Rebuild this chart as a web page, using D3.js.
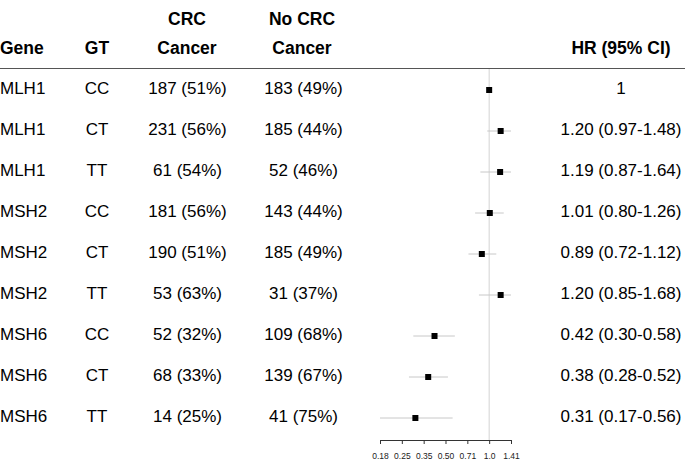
<!DOCTYPE html>
<html>
<head>
<meta charset="utf-8">
<script src="https://cdn.jsdelivr.net/npm/d3@7"></script>
<style>
  body { margin: 0; background: #fff; }
  svg { display: block; }
</style>
</head>
<body>
<svg id="chart"></svg>
<script>
const genes = ["MLH1","MLH1","MLH1","MSH2","MSH2","MSH2","MSH6","MSH6","MSH6"];
const gts = ["CC","CT","TT","CC","CT","TT","CC","CT","TT"];
const crc = ["187 (51%)","231 (56%)","61 (54%)","181 (56%)","190 (51%)","53 (63%)","52 (32%)","68 (33%)","14 (25%)"];
const nocrc = ["183 (49%)","185 (44%)","52 (46%)","143 (44%)","185 (49%)","31 (37%)","109 (68%)","139 (67%)","41 (75%)"];
const hr = [1, 1.20, 1.19, 1.01, 0.89, 1.20, 0.42, 0.38, 0.31];
const lo = [null, 0.97, 0.87, 0.80, 0.72, 0.85, 0.30, 0.28, 0.17];
const hi = [null, 1.48, 1.64, 1.26, 1.12, 1.68, 0.58, 0.52, 0.56];
const hrText = ["1","1.20 (0.97-1.48)","1.19 (0.87-1.64)","1.01 (0.80-1.26)","0.89 (0.72-1.12)","1.20 (0.85-1.68)","0.42 (0.30-0.58)","0.38 (0.28-0.52)","0.31 (0.17-0.56)"];
const tickVals = [0.1768, 0.25, 0.3536, 0.5, 0.7071, 1, 1.4142];
const tickLabels = ["0.18","0.25","0.35","0.50","0.71","1.0","1.41"];

const W = 685, H = 461;
const font = "Liberation Sans, Arial, sans-serif";

const svg = d3.select("#chart").attr("width", W).attr("height", H);

const y = d3.scalePoint().domain(d3.range(hr.length)).range([90, 418]);
const x = d3.scaleLog().base(2).domain([0.1768, 1.4142]).range([380, 511]);

// header
const head = svg.append("g")
  .attr("font-family", font).attr("font-size", 17.5).attr("font-weight", "bold")
  .attr("dominant-baseline", "middle");
head.append("text").attr("x", 0).attr("y", 49).text("Gene");
head.append("text").attr("x", 97).attr("y", 49).attr("text-anchor", "middle").text("GT");
head.append("text").attr("x", 187).attr("y", 20).attr("text-anchor", "middle").text("CRC");
head.append("text").attr("x", 187).attr("y", 49).attr("text-anchor", "middle").text("Cancer");
head.append("text").attr("x", 302).attr("y", 20).attr("text-anchor", "middle").text("No CRC");
head.append("text").attr("x", 302).attr("y", 49).attr("text-anchor", "middle").text("Cancer");
head.append("text").attr("x", 621).attr("y", 49).attr("text-anchor", "middle").text("HR (95% CI)");

svg.append("line")
  .attr("x1", 0).attr("x2", W).attr("y1", 68.5).attr("y2", 68.5)
  .attr("stroke", "#555").attr("stroke-width", 1);

// reference line at 1
svg.append("line")
  .attr("x1", x(1)).attr("x2", x(1)).attr("y1", 69).attr("y2", 440)
  .attr("stroke", "#d4d4d4").attr("stroke-width", 1);

// table columns
const body = svg.append("g").attr("font-family", font).attr("font-size", 17)
  .attr("dominant-baseline", "middle");
const cols = [
  {vals: genes, x: 0, anchor: "start"},
  {vals: gts, x: 97, anchor: "middle"},
  {vals: crc, x: 187.5, anchor: "middle"},
  {vals: nocrc, x: 303.5, anchor: "middle"},
  {vals: hrText, x: 621, anchor: "middle"}
];
cols.forEach(c => {
  body.append("g").selectAll("text")
    .data(c.vals)
    .enter()
    .append("text")
    .attr("x", c.x)
    .attr("y", (d, i) => y(i))
    .attr("text-anchor", c.anchor)
    .text(d => d);
});

// CIs
const clamp = v => Math.max(x.domain()[0], Math.min(x.domain()[1], v));
svg.append("g").selectAll("line")
  .data(d3.range(hr.length).filter(i => lo[i] != null))
  .enter()
  .append("line")
  .attr("x1", i => x(clamp(lo[i])))
  .attr("x2", i => x(clamp(hi[i])))
  .attr("y1", i => y(i))
  .attr("y2", i => y(i))
  .attr("stroke", "#c8c8c8").attr("stroke-width", 1);

svg.append("g").selectAll("rect")
  .data(hr)
  .enter()
  .append("rect")
  .attr("x", d => x(d) - 3)
  .attr("y", (d, i) => y(i) - 3)
  .attr("width", 6).attr("height", 6)
  .attr("fill", "black");

// axis
const axis = svg.append("g")
  .attr("transform", "translate(0,440)")
  .call(d3.axisBottom(x).tickValues(tickVals).tickFormat((d, i) => tickLabels[i]).tickSize(4).tickSizeOuter(0));
axis.select(".domain").attr("stroke", "#333");
axis.selectAll(".tick line").attr("stroke", "#333");
axis.selectAll(".tick text").attr("font-family", font).attr("font-size", 8.5).attr("fill", "#222").attr("dy", "1.4em");
</script>
</body>
</html>
